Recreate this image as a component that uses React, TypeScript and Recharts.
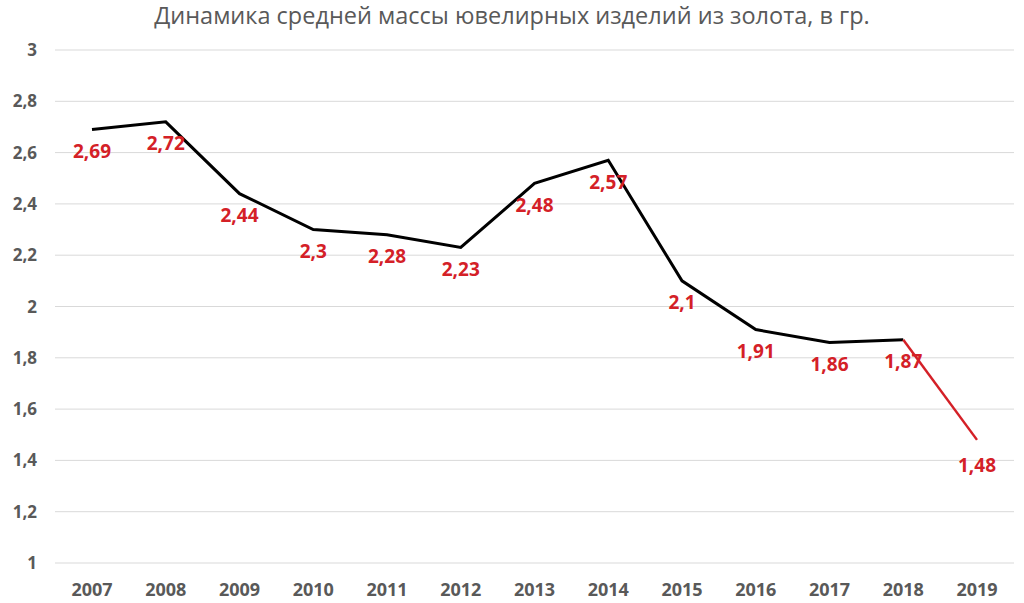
import React from 'react';
import { CartesianGrid, LabelList, Line, LineChart, XAxis, YAxis } from 'recharts';

const years = ['2007', '2008', '2009', '2010', '2011', '2012', '2013', '2014', '2015', '2016', '2017', '2018', '2019'];
const avgMass = [2.69, 2.72, 2.44, 2.3, 2.28, 2.23, 2.48, 2.57, 2.1, 1.91, 1.86, 1.87, 1.48];
const yTicks = [1, 1.2, 1.4, 1.6, 1.8, 2, 2.2, 2.4, 2.6, 2.8, 3];

// the last segment (2018 -> 2019) is drawn red
const lastIdx = avgMass.length - 1;
const data = years.map((year, i) => ({
  year,
  base: i < lastIdx ? avgMass[i] : null,
  drop: i >= lastIdx - 1 ? avgMass[i] : null,
}));

const fmt = (v: number) => String(v).replace('.', ',');

const font = '"Open Sans", sans-serif';
const red = '#d42027';

const DropLabel = (props: any) => {
  const { x, y, index, value } = props;
  if (index !== lastIdx || value == null) return null;
  return (
    <text x={x} y={y + 15} dy="0.9em" textAnchor="middle" fill={red} fontSize={19} fontWeight={700} fontFamily={font}>
      {fmt(value)}
    </text>
  );
};

const App = () => {
  return (
    <div style={{ position: 'absolute', left: 0, top: 0, width: 1024, height: 603, background: '#fff' }}>
      <div
        style={{
          position: 'absolute',
          top: -2,
          width: '100%',
          textAlign: 'center',
          fontFamily: font,
          fontSize: 23.5,
          lineHeight: '34px',
          color: '#595959',
        }}
      >
        Динамика средней массы ювелирных изделий из золота, в гр.
      </div>
      <LineChart width={1024} height={603} data={data} margin={{ top: 50, right: 10, bottom: 0, left: 0 }}>
        <CartesianGrid vertical={false} stroke="#d9d9d9" />
        <XAxis
          dataKey="year"
          height={40}
          axisLine={false}
          tickLine={false}
          padding={{ left: 37, right: 37 }}
          tickMargin={14}
          tick={{ fill: '#595959', fontSize: 18, fontWeight: 700, fontFamily: font }}
        />
        <YAxis
          width={55}
          domain={[1, 3]}
          ticks={yTicks}
          axisLine={false}
          tickLine={false}
          tickMargin={12}
          tickFormatter={fmt}
          tick={{ fill: '#595959', fontSize: 17, fontWeight: 700, fontFamily: font }}
        />
        <Line
          type="linear"
          dataKey="base"
          stroke="#000"
          strokeWidth={3}
          dot={false}
          connectNulls={false}
          isAnimationActive={false}
        >
          <LabelList
            dataKey="base"
            position="bottom"
            offset={15}
            formatter={(v: any) => (v == null ? '' : fmt(v))}
            style={{ fill: red, fontSize: 19, fontWeight: 700, fontFamily: font }}
          />
        </Line>
        <Line
          type="linear"
          dataKey="drop"
          stroke={red}
          strokeWidth={2.5}
          dot={false}
          isAnimationActive={false}
        >
          <LabelList dataKey="drop" content={DropLabel} />
        </Line>
      </LineChart>
    </div>
  );
};

export default App;
